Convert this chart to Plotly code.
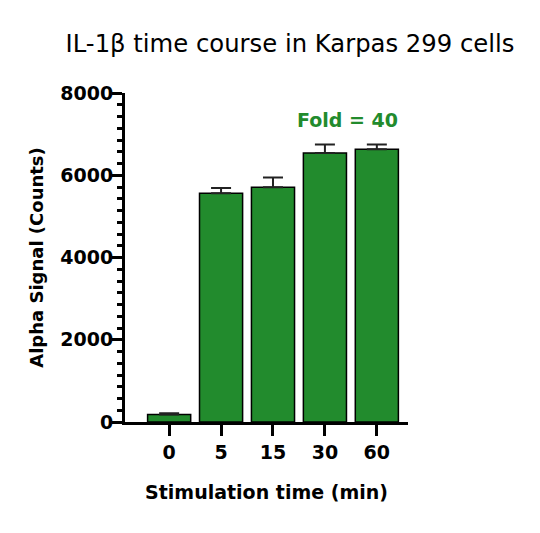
import plotly.graph_objects as go

# stimulation times (min) and Alpha signal readings
times = ["0", "5", "15", "30", "60"]
signal = [180, 5560, 5710, 6540, 6635]
sem = [30, 130, 235, 210, 115]
fold_label = "Fold = 40"

GREEN = "#228B2D"
BOLD = "DejaVu Sans, sans-serif"

xpos = list(range(len(times)))

fig = go.Figure()

fig.add_trace(go.Bar(
    x=xpos, y=signal, width=0.83,
    marker=dict(color=GREEN, line=dict(color="black", width=1.5)),
    error_y=dict(type="data", array=sem, arrayminus=[0] * len(sem), symmetric=False,
                 color="#222222", thickness=2, width=10),
    showlegend=False,
))

# fold change label above the late time points
fig.add_annotation(x=3.44, y=7350, text=f"<b>{fold_label}</b>", showarrow=False,
                   font=dict(family=BOLD, size=19, color=GREEN))

axis_font = dict(family=BOLD, size=19, color="black")

fig.update_layout(
    width=540, height=533,
    paper_bgcolor="white", plot_bgcolor="white",
    margin=dict(l=117, r=140, t=85, b=119),
    title=dict(text="IL-1β time course in Karpas 299 cells", x=282 / 540, xanchor="center",
               y=1 - 35 / 533, yanchor="middle",
               font=dict(family="DejaVu Sans, sans-serif", size=24.3, color="black")),
    xaxis=dict(
        tickmode="array", tickvals=xpos, ticktext=[f"<b>{t}</b>" for t in times],
        range=[-0.85, 4.6], showline=True, linecolor="black", linewidth=3,
        ticks="outside", ticklen=11, tickwidth=3, tickcolor="black",
        showgrid=False, zeroline=False, tickfont=axis_font,
        title=dict(text="<b>Stimulation time (min)</b>", standoff=24,
                   font=dict(family=BOLD, size=19, color="black")),
    ),
    yaxis=dict(
        range=[0, 8000], tickvals=[0, 2000, 4000, 6000, 8000],
        ticktext=[f"<b>{v}</b>" for v in [0, 2000, 4000, 6000, 8000]],
        showline=True, linecolor="black", linewidth=3,
        ticks="outside", ticklen=10, tickwidth=3, tickcolor="black",
        ticklabelstandoff=-5,
        minor=dict(dtick=2000 / 7, ticks="outside", ticklen=5, tickwidth=3, tickcolor="black"),
        showgrid=False, zeroline=False, tickfont=axis_font,
        title=dict(text="<b>Alpha Signal (Counts)</b>", standoff=13,
                   font=dict(family=BOLD, size=18, color="black")),
    ),
)

fig.write_html("out.html")
